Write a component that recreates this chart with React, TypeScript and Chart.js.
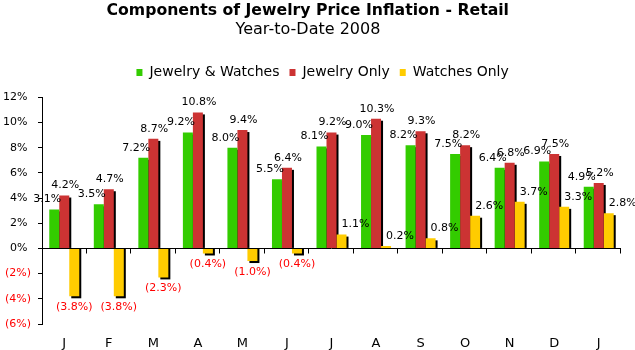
import React, { useEffect, useRef } from 'react';
import { Chart, registerables } from 'chart.js';

Chart.register(...registerables);

// ---- data ----
const months = ['J', 'F', 'M', 'A', 'M', 'J', 'J', 'A', 'S', 'O', 'N', 'D', 'J'];
const seriesNames = ['Jewelry & Watches', 'Jewelry Only', 'Watches Only'];
const jewelryAndWatches = [3.1, 3.5, 7.2, 9.2, 8.0, 5.5, 8.1, 9.0, 8.2, 7.5, 6.4, 6.9, 4.9];
const jewelryOnly = [4.2, 4.7, 8.7, 10.8, 9.4, 6.4, 9.2, 10.3, 9.3, 8.2, 6.8, 7.5, 5.2];
const watchesOnly = [-3.8, -3.8, -2.3, -0.4, -1.0, -0.4, 1.1, 0.2, 0.8, 2.6, 3.7, 3.3, 2.8];
const yMin = -6;
const yMax = 12;
const yStep = 2;

const titleText = 'Components of Jewelry Price Inflation - Retail';
const subtitleText = 'Year-to-Date 2008';

// ---- styles ----
const FONT = "'DejaVu Sans', Verdana, sans-serif";
const COLORS = ['#33CC00', '#CC3333', '#FFCC00'];
const NEG_RED = '#FF0000';
const labelShiftX = [-7, 1, 14];

const fmtPct = (v: number) => (v < 0 ? `(${Math.abs(v).toFixed(1)}%)` : `${v.toFixed(1)}%`);

const shadowPlugin = {
  id: 'barShadow',
  beforeDatasetsDraw(chart: any) {
    const ctx = chart.ctx;
    ctx.save();
    ctx.fillStyle = '#000';
    chart.data.datasets.forEach((_ds: any, i: number) => {
      const meta = chart.getDatasetMeta(i);
      meta.data.forEach((bar: any) => {
        const { x, y, base, width } = bar.getProps(['x', 'y', 'base', 'width'], true);
        const left = x - width / 2 + 2;
        if (y <= base) {
          ctx.fillRect(left, y + 2, width, Math.max(0, base - y - 2));
        } else {
          ctx.fillRect(left, base, width, y - base + 2);
        }
      });
    });
    ctx.restore();
  },
};

const zeroAxisPlugin = {
  id: 'zeroAxis',
  afterDatasetsDraw(chart: any) {
    const ctx = chart.ctx;
    const { left, right } = chart.chartArea;
    const yScale = chart.scales.y;
    const y0 = Math.floor(yScale.getPixelForValue(0)) + 0.5;
    const n = chart.data.labels.length;
    ctx.save();
    ctx.strokeStyle = '#000';
    ctx.lineWidth = 1;
    ctx.beginPath();
    ctx.moveTo(left, y0);
    ctx.lineTo(right, y0);
    for (let i = 1; i <= n; i++) {
      const x = Math.round(left + ((right - left) * i) / n) - 0.5;
      ctx.moveTo(x, y0);
      ctx.lineTo(x, y0 + 5);
    }
    ctx.stroke();
    ctx.restore();
  },
};

const valueLabelPlugin = {
  id: 'valueLabels',
  afterDatasetsDraw(chart: any) {
    const ctx = chart.ctx;
    ctx.save();
    ctx.font = `11px ${FONT}`;
    ctx.textAlign = 'center';
    ctx.textBaseline = 'middle';
    chart.data.datasets.forEach((ds: any, i: number) => {
      const meta = chart.getDatasetMeta(i);
      meta.data.forEach((bar: any, j: number) => {
        const v = ds.data[j];
        const { x, y } = bar.getProps(['x', 'y'], true);
        if (v < 0) {
          ctx.fillStyle = NEG_RED;
          ctx.fillText(fmtPct(v), x, y + 11);
        } else {
          ctx.fillStyle = '#000';
          ctx.fillText(fmtPct(v), x + labelShiftX[i], y - 10);
        }
      });
    });
    ctx.restore();
  },
};

export default function App() {
  const ref = useRef<HTMLCanvasElement>(null);

  useEffect(() => {
    if (!ref.current) return;
    const series = [jewelryAndWatches, jewelryOnly, watchesOnly];
    const chart = new Chart(ref.current, {
      type: 'bar',
      data: {
        labels: months,
        datasets: series.map((d, i) => ({
          label: seriesNames[i] + (i === series.length - 1 ? '    ' : ''),
          data: d,
          backgroundColor: COLORS[i],
          borderWidth: 0,
          xAxisID: 'x',
          yAxisID: 'y',
          categoryPercentage: 0.6735,
          barPercentage: 1,
        })),
      },
      options: {
        responsive: false,
        animation: false,
        devicePixelRatio: 1,
        layout: { padding: { left: 0, right: 14, top: 0, bottom: 0 } },
        plugins: {
          tooltip: { enabled: false },
          title: {
            display: true,
            text: titleText + ' ',
            color: '#000',
            font: { family: FONT, size: 15.7, weight: 'bold', lineHeight: 1.2 },
            padding: { top: 2, bottom: 0 },
          },
          subtitle: {
            display: true,
            text: subtitleText + ' ',
            color: '#000',
            font: { family: FONT, size: 16, weight: 'normal', lineHeight: 1.1 },
            padding: { top: 0, bottom: 17 },
          },
          legend: {
            display: true,
            position: 'top',
            fullSize: false,
            labels: {
              boxWidth: 6,
              boxHeight: 7,
              padding: 10,
              color: '#000',
              font: { family: FONT, size: 14 },
            },
          },
        },
        scales: {
          x: {
            type: 'category',
            position: 'bottom',
            offset: true,
            grid: { display: false, drawTicks: false },
            border: { display: false },
            ticks: {
              color: '#000',
              padding: 12,
              font: { family: FONT, size: 13 },
              maxRotation: 0,
              autoSkip: false,
            },
            afterFit: (s: any) => {
              s.height = 26;
            },
          },
          x2: {
            type: 'category',
            position: 'top',
            display: true,
            grid: { display: false, drawTicks: false },
            border: { display: false },
            ticks: { display: false },
            afterFit: (s: any) => {
              s.height = 7.86;
            },
          },
          y: {
            type: 'linear',
            position: 'left',
            min: yMin,
            max: yMax,
            grid: {
              display: true,
              drawOnChartArea: false,
              drawTicks: true,
              tickLength: 4,
              color: '#000',
            },
            border: { display: true, color: '#000' },
            ticks: {
              stepSize: yStep,
              padding: 7,
              font: { family: FONT, size: 11 },
              color: (c: any) => (c.tick && c.tick.value < 0 ? NEG_RED : '#000'),
              callback: (v: any) => (v < 0 ? `(${Math.abs(v)}%)` : `${v}% `),
            },
            afterFit: (s: any) => {
              s.width = 42;
            },
          },
        },
      },
      plugins: [shadowPlugin, zeroAxisPlugin, valueLabelPlugin],
    } as any);
    return () => chart.destroy();
  }, []);

  return (
    <div style={{ position: 'fixed', left: 0, top: 0, width: 635, height: 350, background: '#fff' }}>
      <canvas ref={ref} width={635} height={350} style={{ display: 'block', width: 635, height: 350 }} />
    </div>
  );
}
